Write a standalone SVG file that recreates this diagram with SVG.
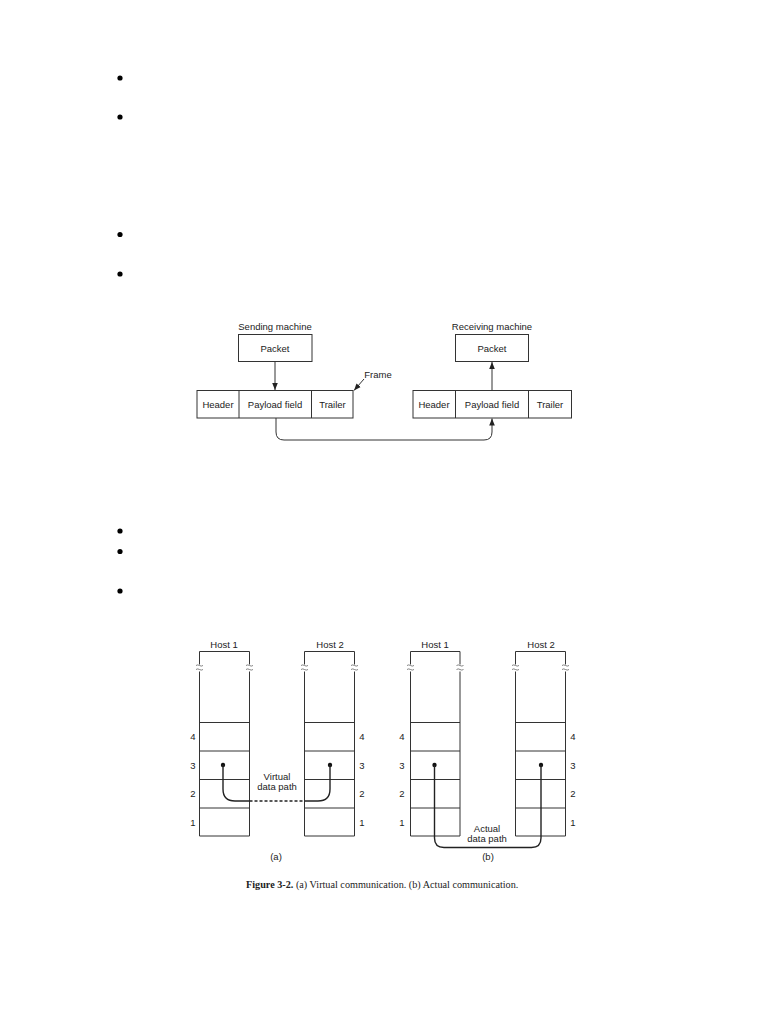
<svg xmlns="http://www.w3.org/2000/svg" width="768" height="1024" viewBox="0 0 768 1024">
<defs>
<style>
.t{font-family:"Liberation Sans",Arial,sans-serif;font-size:9.5px;fill:#222;text-anchor:middle}
.b{fill:#fff;stroke:#333;stroke-width:1}
.l{fill:none;stroke:#333;stroke-width:1}
.p{fill:none;stroke:#222;stroke-width:1.4}
.cap{font-family:"Liberation Serif","Times New Roman",serif;font-size:10.2px;fill:#222}
</style>
<marker id="ah" markerWidth="8" markerHeight="8" refX="7" refY="4" orient="auto" markerUnits="userSpaceOnUse">
<path d="M0,1.2 L7,4 L0,6.8 Z" fill="#222"/>
</marker>
<g id="brk">
<path d="M-3.5,-2.5 q1.7,-1.2 3.5,0 t3.5,0 M-3.5,1.5 q1.7,-1.2 3.5,0 t3.5,0" fill="none" stroke="#666" stroke-width="0.8"/>
</g>
</defs>
<rect width="768" height="1024" fill="#fff"/>

<g id="bullets" fill="#000">
<circle cx="120" cy="78" r="2.6"/>
<circle cx="120" cy="117" r="2.6"/>
<circle cx="120" cy="234.5" r="2.6"/>
<circle cx="120" cy="274" r="2.6"/>
<circle cx="120" cy="531" r="2.6"/>
<circle cx="120" cy="551.5" r="2.6"/>
<circle cx="120" cy="591" r="2.6"/>
</g>

<!-- Top diagram -->
<g id="sending-packet">
<text class="t" x="275" y="330">Sending machine</text>
<rect class="b" x="238.5" y="334.5" width="73.5" height="27"/>
<text class="t" x="275" y="351.5">Packet</text>
</g>
<g id="receiving-packet">
<text class="t" x="492" y="330">Receiving machine</text>
<rect class="b" x="455.5" y="334.5" width="73" height="27"/>
<text class="t" x="492" y="351.5">Packet</text>
</g>
<g id="frame-left">
<rect class="b" x="197" y="390.5" width="156" height="27.5"/>
<line class="l" x1="239" y1="390.5" x2="239" y2="418"/>
<line class="l" x1="311.5" y1="390.5" x2="311.5" y2="418"/>
<text class="t" x="218" y="408">Header</text>
<text class="t" x="275" y="408">Payload field</text>
<text class="t" x="332.5" y="408">Trailer</text>
</g>
<g id="frame-right">
<rect class="b" x="413" y="390.5" width="158.5" height="27.5"/>
<line class="l" x1="455.5" y1="390.5" x2="455.5" y2="418"/>
<line class="l" x1="528.5" y1="390.5" x2="528.5" y2="418"/>
<text class="t" x="434" y="408">Header</text>
<text class="t" x="492" y="408">Payload field</text>
<text class="t" x="550" y="408">Trailer</text>
</g>
<g id="frame-label">
<text class="t" x="378" y="377.5">Frame</text>
</g>
<g id="connectors-top">
<line class="l" x1="275" y1="361.5" x2="275" y2="390" marker-end="url(#ah)"/>
<line class="l" x1="492" y1="390.5" x2="492" y2="362" marker-end="url(#ah)"/>
<line class="l" x1="364" y1="379" x2="354" y2="390.5" marker-end="url(#ah)"/>
<path class="l" d="M276,418 V432 Q276,440 284,440 H484 Q492,440 492,432 V418.5" marker-end="url(#ah)"/>
</g>

<!-- Bottom diagram -->
<g id="host1a">
<text class="t" x="224" y="648">Host 1</text>
<path class="l" d="M199.5,664.5 V651.5 H249.5 V664.5 M199.5,671.5 V836 H249.5 V671.5"/>
<use href="#brk" x="199.5" y="668"/>
<use href="#brk" x="249.5" y="668"/>
<path class="l" d="M199.5,722.5 H249.5 M199.5,751 H249.5 M199.5,779.5 H249.5 M199.5,808 H249.5"/>
<text class="t" x="193" y="740">4</text>
<text class="t" x="193" y="768.5">3</text>
<text class="t" x="193" y="797">2</text>
<text class="t" x="193" y="825.5">1</text>
</g>
<g id="host2a">
<text class="t" x="330" y="648">Host 2</text>
<path class="l" d="M304.5,664.5 V651.5 H354.5 V664.5 M304.5,671.5 V836 H354.5 V671.5"/>
<use href="#brk" x="304.5" y="668"/>
<use href="#brk" x="354.5" y="668"/>
<path class="l" d="M304.5,722.5 H354.5 M304.5,751 H354.5 M304.5,779.5 H354.5 M304.5,808 H354.5"/>
<text class="t" x="362" y="740">4</text>
<text class="t" x="362" y="768.5">3</text>
<text class="t" x="362" y="797">2</text>
<text class="t" x="362" y="825.5">1</text>
</g>
<g id="host1b">
<text class="t" x="435" y="648">Host 1</text>
<path class="l" d="M410.5,664.5 V651.5 H460 V664.5 M410.5,671.5 V836 H460 V671.5"/>
<use href="#brk" x="410.5" y="668"/>
<use href="#brk" x="460" y="668"/>
<path class="l" d="M410.5,722.5 H460 M410.5,751 H460 M410.5,779.5 H460 M410.5,808 H460"/>
<text class="t" x="402" y="740">4</text>
<text class="t" x="402" y="768.5">3</text>
<text class="t" x="402" y="797">2</text>
<text class="t" x="402" y="825.5">1</text>
</g>
<g id="host2b">
<text class="t" x="541" y="648">Host 2</text>
<path class="l" d="M515.5,664.5 V651.5 H565.5 V664.5 M515.5,671.5 V836 H565.5 V671.5"/>
<use href="#brk" x="515.5" y="668"/>
<use href="#brk" x="565.5" y="668"/>
<path class="l" d="M515.5,722.5 H565.5 M515.5,751 H565.5 M515.5,779.5 H565.5 M515.5,808 H565.5"/>
<text class="t" x="573" y="740">4</text>
<text class="t" x="573" y="768.5">3</text>
<text class="t" x="573" y="797">2</text>
<text class="t" x="573" y="825.5">1</text>
</g>
<g id="paths">
<circle cx="223" cy="765" r="2.2" fill="#111"/>
<circle cx="330" cy="765" r="2.2" fill="#111"/>
<path class="p" d="M223,765 V789 Q223,801 235,801 H249.5"/>
<path class="p" d="M249.5,801 H304.5" stroke-dasharray="3,2"/>
<path class="p" d="M304.5,801 H318 Q330,801 330,789 V765"/>
<circle cx="434.5" cy="765" r="2.2" fill="#111"/>
<circle cx="541" cy="765" r="2.2" fill="#111"/>
<path class="p" d="M434.5,765 V838 Q434.5,847.5 444,847.5 H531.5 Q541,847.5 541,838 V765"/>
</g>
<g id="path-labels">
<text class="t" x="277" y="780">Virtual</text>
<text class="t" x="277" y="790">data path</text>
<text class="t" x="487" y="831.5">Actual</text>
<text class="t" x="487" y="841.5">data path</text>
<text class="t" x="276" y="860">(a)</text>
<text class="t" x="488" y="860">(b)</text>
</g>
<text class="cap" x="246" y="888"><tspan font-weight="bold">Figure 3-2.</tspan>  (a) Virtual communication. (b) Actual communication.</text>
</svg>
